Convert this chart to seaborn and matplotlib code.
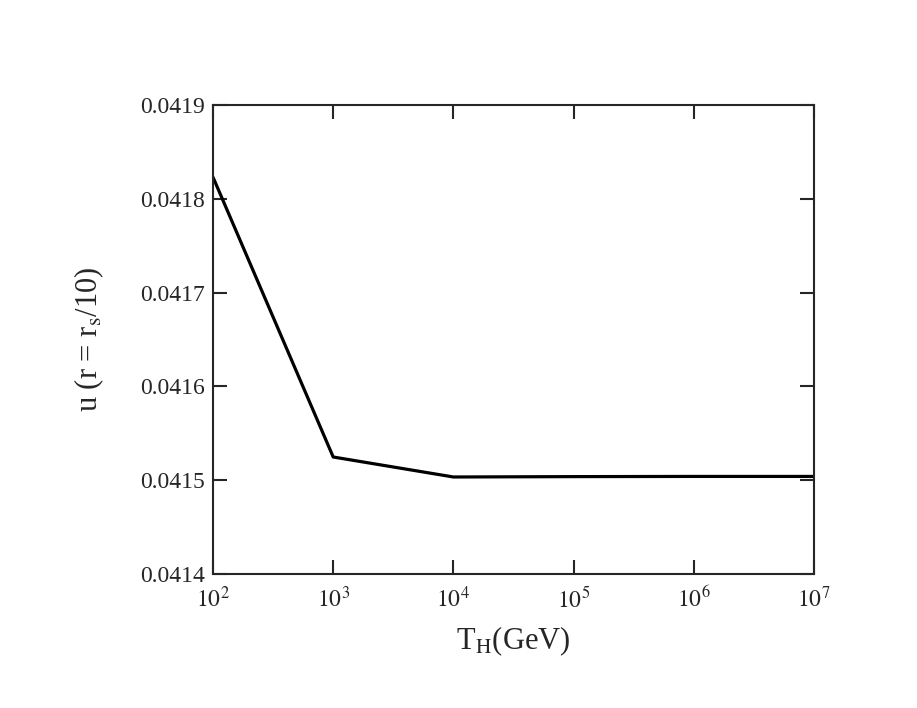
import matplotlib
matplotlib.use('Agg')
import matplotlib.pyplot as plt
import matplotlib.ticker as mticker
import pandas as pd
import seaborn as sns

# values
t_h = [1e2, 1e3, 1e4, 1e5, 1e6, 1e7]
u_rs = [0.041823, 0.0415247, 0.0415034, 0.0415038, 0.041504, 0.041504]
x_ticks = [1e2, 1e3, 1e4, 1e5, 1e6, 1e7]
x_labels = ['$10^{2}$', '$10^{3}$', '$10^{4}$', '$10^{5}$', '$10^{6}$', '$10^{7}$']
y_ticks = [0.0414, 0.0415, 0.0416, 0.0417, 0.0418, 0.0419]

sns.set_style('ticks')
plt.rcParams['font.family'] = ['Liberation Serif', 'DejaVu Serif']
plt.rcParams['mathtext.fontset'] = 'stix'

df = pd.DataFrame({'T_H': t_h, 'u': u_rs})

fig = plt.figure(figsize=(9.17, 7.08), dpi=100)
ax = fig.add_axes([0.2323, 0.1893, 0.6554, 0.6624])
sns.lineplot(data=df, x='T_H', y='u', color='black', linewidth=2.3, ax=ax)

ax.set_xscale('log')
ax.set_xlim(1e2, 1e7)
ax.set_ylim(0.0414, 0.0419)
ax.set_xticks(x_ticks)
ax.set_xticklabels(x_labels)
ax.xaxis.set_minor_locator(mticker.NullLocator())
ax.set_yticks(y_ticks)
ax.yaxis.set_major_formatter(mticker.FormatStrFormatter('%.4f'))

ax.tick_params(direction='in', length=10, width=1.5, top=True, right=True,
               labelsize=17)
ax.tick_params(axis='x', pad=9)
ax.tick_params(axis='y', pad=6)
for s in ax.spines.values():
    s.set_linewidth(1.5)
    s.set_visible(True)

ax.set_xlabel('T$_{\\rm H}$(GeV)', fontsize=22, labelpad=9)
ax.set_ylabel('u (r = r$_{\\rm s}$/10)', fontsize=22, labelpad=24)

fig.savefig('out.png', dpi=100)
plt.close()
